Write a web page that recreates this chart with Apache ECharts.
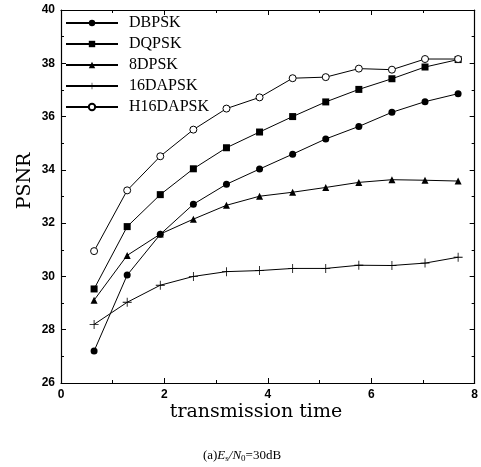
<!DOCTYPE html>
<html>
<head>
<meta charset="utf-8">
<script src="https://cdn.jsdelivr.net/npm/echarts@6/dist/echarts.min.js"></script>
<style>
  html, body { margin: 0; padding: 0; background: #fff; }
  #chart { width: 481px; height: 467px; }
</style>
</head>
<body>
<div id="chart"></div>
<script>
// Transmission time samples (x axis)
var times = [0.64, 1.28, 1.92, 2.56, 3.2, 3.84, 4.48, 5.12, 5.76, 6.4, 7.04, 7.68];

// PSNR (dB) per modulation scheme
var dbpsk   = [27.2, 30.05, 31.58, 32.71, 33.46, 34.03, 34.59, 35.16, 35.63, 36.16, 36.56, 36.86];
var dqpsk   = [29.53, 31.87, 33.07, 34.04, 34.83, 35.42, 36.0, 36.55, 37.02, 37.42, 37.86, 38.14];
var dpsk8   = [29.11, 30.79, 31.59, 32.15, 32.67, 33.01, 33.16, 33.34, 33.53, 33.63, 33.61, 33.58];
var dapsk16 = [28.2, 29.03, 29.67, 30.0, 30.18, 30.22, 30.3, 30.3, 30.42, 30.41, 30.5, 30.72];
var h16dapsk = [30.95, 33.23, 34.51, 35.51, 36.3, 36.72, 37.44, 37.48, 37.8, 37.76, 38.16, 38.16];

var seriesNames = ['DBPSK', 'DQPSK', '8DPSK', '16DAPSK', 'H16DAPSK'];
var xTicks = [0, 2, 4, 6, 8];
var yTicks = [26, 28, 30, 32, 34, 36, 38, 40];
var xTitle = 'transmission time';
var yTitle = 'PSNR';

function pairs(ys) {
  return ys.map(function (y, i) { return [times[i], y]; });
}

var plusPath = 'path://M-1,-0.09H1V0.09H-1Z M-0.09,-1H0.09V1H-0.09Z';
var serif = 'Liberation Serif, Times New Roman, serif';

function makeSeries(name, values, symbol, size, hollow) {
  return {
    name: name,
    type: 'line',
    data: pairs(values),
    symbol: symbol,
    symbolSize: size,
    showAllSymbol: true,
    lineStyle: { color: '#000', width: 1 },
    itemStyle: hollow
      ? { color: '#fff', borderColor: '#000', borderWidth: 1 }
      : { color: '#000', borderColor: '#000', borderWidth: 0 },
    emphasis: { disabled: true },
    animation: false,
    z: 3
  };
}

var tickLabelStyle = {
  fontFamily: 'Liberation Sans, Arial, sans-serif',
  fontWeight: 'bold',
  fontSize: 12,
  color: '#000'
};

function baseAxis(isX, show) {
  var ticks = isX ? xTicks : yTicks;
  return {
    type: 'value',
    min: ticks[0],
    max: ticks[ticks.length - 1],
    interval: 2,
    axisLine: { show: true, onZero: false, lineStyle: { color: '#000', width: 1.2 } },
    axisTick: { show: true, inside: true, length: 5, lineStyle: { color: '#000' } },
    minorTick: { show: true, splitNumber: 2, length: 3, lineStyle: { color: '#000' } },
    splitLine: { show: false },
    axisLabel: show ? Object.assign({ margin: 6 }, tickLabelStyle) : { show: false }
  };
}

var chart = echarts.init(document.getElementById('chart'), null, { renderer: 'canvas' });

chart.setOption({
  backgroundColor: '#fff',
  animation: false,
  grid: { left: 61, right: 5, top: 10, bottom: 84, containLabel: false },
  xAxis: [
    Object.assign(baseAxis(true, true), { position: 'bottom' }),
    Object.assign(baseAxis(true, false), { position: 'top' })
  ],
  yAxis: [
    Object.assign(baseAxis(false, true), { position: 'left' }),
    Object.assign(baseAxis(false, false), { position: 'right' })
  ],
  legend: {
    orient: 'vertical',
    left: 60,
    top: 10,
    itemWidth: 52,
    itemHeight: 8,
    itemGap: 5,
    data: seriesNames,
    textStyle: { fontFamily: serif, fontSize: 16, color: '#000', padding: [0, 0, 0, 6] },
    selectedMode: false
  },
  series: [
    makeSeries(seriesNames[0], dbpsk, 'circle', 7, false),
    makeSeries(seriesNames[1], dqpsk, 'rect', 7, false),
    makeSeries(seriesNames[2], dpsk8, 'triangle', 7, false),
    makeSeries(seriesNames[3], dapsk16, plusPath, 9, false),
    makeSeries(seriesNames[4], h16dapsk, 'circle', 7, true)
  ],
  graphic: [
    {
      // x axis title
      type: 'text',
      x: 256,
      y: 412,
      style: {
        text: xTitle,
        fontFamily: 'DejaVu Serif, serif',
        fontSize: 19,
        fill: '#000',
        align: 'center',
        verticalAlign: 'middle'
      }
    },
    {
      // y axis title
      type: 'text',
      x: 25,
      y: 181,
      rotation: Math.PI / 2,
      style: {
        text: yTitle,
        fontFamily: 'DejaVu Serif, serif',
        fontSize: 19,
        fill: '#000',
        align: 'center',
        verticalAlign: 'middle'
      }
    },
    {
      // caption
      type: 'text',
      x: 242,
      y: 456,
      style: {
        text: '(a){i|E}{sub|s}{i|/N}{sub|0}=30dB',
        fontFamily: serif,
        fontSize: 13,
        fill: '#000',
        align: 'center',
        verticalAlign: 'middle',
        rich: {
          i: { fontFamily: serif, fontStyle: 'italic', fontSize: 13 },
          sub: { fontFamily: serif, fontSize: 9, padding: [6, 0, 0, 0] }
        }
      }
    }
  ]
});
</script>
</body>
</html>
